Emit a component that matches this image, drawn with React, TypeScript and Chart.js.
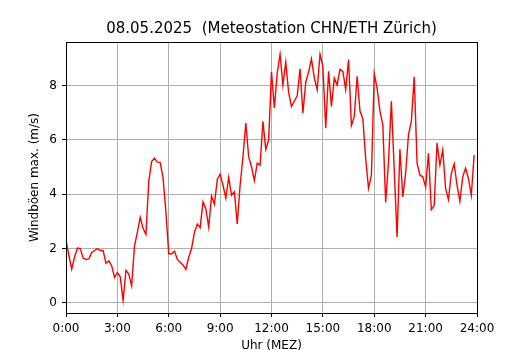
import React, { useEffect, useRef } from "react";
import { Chart, registerables } from "chart.js";

Chart.register(...registerables);

const TITLE = "08.05.2025  (Meteostation CHN/ETH Zürich)";
const X_LABEL = "Uhr (MEZ)";
const Y_LABEL = "Windböen max. (m/s)";

// hour-of-day tick positions and y tick values
const xTicks = [0, 3, 6, 9, 12, 15, 18, 21, 24];
const yTicks = [0, 2, 4, 6, 8];

// 10-minute wind gust maxima (m/s), 00:00 .. 23:50
const gust00to04 = [2.3, 1.75, 1.25, 1.68, 2.02, 2.0, 1.65, 1.6, 1.62, 1.86, 1.93, 2.0, 1.93, 1.93, 1.46, 1.55, 1.37, 0.94, 1.12, 0.96, 0.1, 1.2, 1.06, 0.63];
const gust04to08 = [2.1, 2.6, 3.15, 2.75, 2.52, 4.47, 5.2, 5.33, 5.18, 5.17, 4.6, 3.36, 1.81, 1.81, 1.9, 1.6, 1.5, 1.4, 1.23, 1.68, 2.0, 2.6, 2.9, 2.77];
const gust08to12 = [3.72, 3.47, 2.79, 3.93, 3.63, 4.54, 4.74, 4.33, 3.86, 4.62, 3.96, 4.09, 2.91, 4.33, 5.38, 6.62, 5.38, 5.01, 4.5, 5.14, 5.07, 6.68, 5.65, 6.0];
const gust12to16 = [8.5, 7.17, 8.45, 9.15, 8.02, 8.86, 7.75, 7.23, 7.42, 7.62, 8.61, 6.98, 8.12, 8.5, 8.98, 8.28, 7.85, 9.15, 8.7, 6.43, 8.52, 7.23, 8.27, 8.02];
const gust16to20 = [8.6, 8.52, 7.85, 8.95, 6.53, 6.86, 8.34, 7.06, 6.78, 5.3, 4.22, 4.7, 8.43, 7.9, 7.05, 6.56, 3.7, 5.2, 7.42, 4.9, 2.43, 5.66, 3.9, 4.77];
const gust20to24 = [6.19, 6.68, 8.32, 5.14, 4.7, 4.64, 4.27, 5.51, 3.43, 3.58, 5.88, 5.07, 5.63, 4.21, 3.8, 4.77, 5.12, 4.33, 3.74, 4.64, 4.96, 4.58, 3.96, 5.44];

const gusts = [...gust00to04, ...gust04to08, ...gust08to12, ...gust12to16, ...gust16to20, ...gust20to24];

const FONT = '"DejaVu Sans", sans-serif';

export default function App() {
  const ref = useRef<HTMLCanvasElement | null>(null);

  useEffect(() => {
    const canvas = ref.current;
    if (!canvas) return;

    const align = (p: number) => Math.round(p - 0.5) + 0.5;

    const framePlugin = {
      id: "frameAndTitle",
      afterDraw(chart: any) {
        const { ctx, chartArea } = chart;
        const l = align(chartArea.left);
        const r = align(chartArea.right);
        const t = align(chartArea.top);
        const b = align(chartArea.bottom);
        ctx.save();
        ctx.strokeStyle = "#000";
        ctx.lineWidth = 1;
        ctx.strokeRect(l, t, r - l, b - t);
        ctx.fillStyle = "#000";
        ctx.font = `15px ${FONT}`;
        ctx.textAlign = "center";
        ctx.textBaseline = "alphabetic";
        ctx.fillText(TITLE, (chartArea.left + chartArea.right) / 2, 33);
        ctx.restore();
      },
    };

    const chart = new Chart(canvas, {
      type: "line",
      data: {
        datasets: [
          {
            data: gusts.map((v, i) => ({ x: i / 6, y: v })),
            borderColor: "#ff0000",
            borderWidth: 1.4,
            pointRadius: 0,
            tension: 0,
            fill: false,
          },
        ],
      },
      options: {
        responsive: false,
        animation: false,
        devicePixelRatio: 1,
        layout: { padding: { top: 42, right: 53, left: 0, bottom: 0 } },
        plugins: {
          legend: { display: false },
          tooltip: { enabled: false },
          title: { display: false },
        },
        scales: {
          x: {
            type: "linear",
            min: 0,
            max: 24,
            afterBuildTicks: (scale: any) => {
              scale.ticks = xTicks.map((v) => ({ value: v }));
            },
            afterFit: (scale: any) => {
              scale.height = 37;
            },
            grid: {
              color: "#b0b0b0",
              lineWidth: 1,
              tickColor: "#000",
              tickLength: 4,
              drawTicks: true,
            },
            border: { display: false },
            ticks: {
              color: "#000",
              font: { family: FONT, size: 12 },
              padding: 5,
              maxRotation: 0,
              autoSkip: false,
              callback: (v: any) => `${v}:00`,
            },
            title: {
              display: true,
              text: X_LABEL,
              color: "#000",
              font: { family: FONT, size: 12, lineHeight: 0.75 },
              padding: { top: 0, bottom: 0 },
            },
          },
          y: {
            min: -0.37,
            max: 9.6,
            afterBuildTicks: (scale: any) => {
              scale.ticks = yTicks.map((v) => ({ value: v }));
            },
            afterFit: (scale: any) => {
              scale.width = 66;
            },
            grid: {
              color: "#b0b0b0",
              lineWidth: 1,
              tickColor: "#000",
              tickLength: 4,
              drawTicks: true,
            },
            border: { display: false },
            ticks: {
              color: "#000",
              font: { family: FONT, size: 12 },
              padding: 5,
              autoSkip: false,
            },
            title: {
              display: true,
              text: Y_LABEL,
              color: "#000",
              font: { family: FONT, size: 12, lineHeight: 1.2 },
              padding: { top: 28, bottom: 0 },
            },
          },
        },
      },
      plugins: [framePlugin],
    });

    return () => chart.destroy();
  }, []);

  return (
    <div style={{ position: "fixed", left: 0, top: 0, width: 530, height: 350, background: "#fff" }}>
      <canvas ref={ref} width={530} height={350} />
    </div>
  );
}
